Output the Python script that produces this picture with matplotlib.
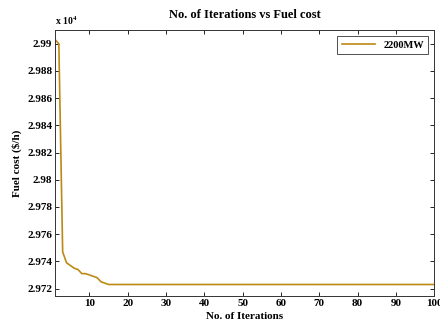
import matplotlib
matplotlib.use('Agg')
import matplotlib.pyplot as plt
from matplotlib.ticker import FuncFormatter, MultipleLocator

# fuel cost per iteration (first 15 iterations, then converged)
iters = list(range(1, 101))
cost_head = [29903, 29900, 29747, 29739, 29737, 29735, 29734, 29731,
             29731, 29730, 29729, 29728, 29725, 29724, 29723]
cost_tail = [29723] * (100 - len(cost_head))
fuel_cost = cost_head + cost_tail

series_label = '2200MW'
line_color = '#BC8A14'

plt.rcParams['font.family'] = 'Liberation Serif'
plt.rcParams['font.weight'] = 'bold'
plt.rcParams['mathtext.fontset'] = 'stix'

fig = plt.figure(figsize=(4.4, 3.27), dpi=100)
ax = fig.add_axes([0.125, 0.095, 0.862, 0.813])

ax.plot(iters, fuel_cost, color=line_color, linewidth=1.2, label=series_label)

ax.set_xlim(1, 100)
ax.set_ylim(29714.6, 29910)
ax.yaxis.set_major_locator(MultipleLocator(20))
ax.set_xticks(range(10, 101, 10))
ax.yaxis.set_major_formatter(FuncFormatter(lambda v, p: '%g' % round(v / 1e4, 4)))

ax.tick_params(direction='in', top=True, right=True, length=3, width=0.6,
               labelsize=8, pad=2)
for lbl in ax.get_xticklabels() + ax.get_yticklabels():
    lbl.set_fontweight('bold')
for sp in ax.spines.values():
    sp.set_linewidth(0.7)
    sp.set_color('#333333')

ax.set_title('No. of Iterations vs Fuel cost', fontsize=9, fontweight='bold', pad=9)
ax.set_xlabel('No. of Iterations', fontsize=8, fontweight='bold', labelpad=3)
ax.set_ylabel('Fuel cost ($/h)', fontsize=8, fontweight='bold', labelpad=4)
ax.text(0.0, 1.012, r'x 10$^{4}$', transform=ax.transAxes, fontsize=7,
        fontweight='bold', ha='left', va='bottom')

leg = ax.legend(loc='upper right', fontsize=7.5, frameon=True, fancybox=False,
                edgecolor='black', handlelength=3.2, borderpad=0.4,
                borderaxespad=0.6)
leg.get_frame().set_linewidth(0.6)
for t in leg.get_texts():
    t.set_fontweight('bold')

fig.savefig('out.png', dpi=100, facecolor='white')
